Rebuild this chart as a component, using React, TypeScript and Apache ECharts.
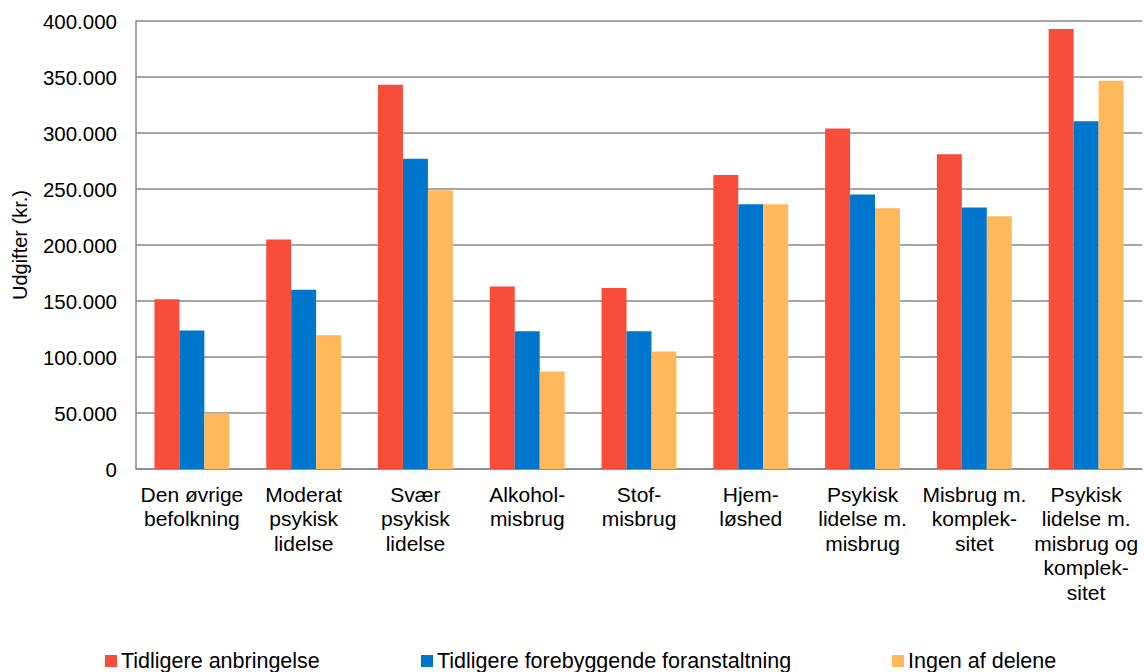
import React, { useEffect, useRef } from "react";
import * as echarts from "echarts";

const categories = [
  "Den øvrige\nbefolkning",
  "Moderat\npsykisk\nlidelse",
  "Svær\npsykisk\nlidelse",
  "Alkohol-\nmisbrug",
  "Stof-\nmisbrug",
  "Hjem-\nløshed",
  "Psykisk\nlidelse m.\nmisbrug",
  "Misbrug m.\nkomplek-\nsitet",
  "Psykisk\nlidelse m.\nmisbrug og\nkomplek-\nsitet",
];

const seriesNames = [
  "Tidligere anbringelse",
  "Tidligere forebyggende foranstaltning",
  "Ingen af delene",
];

const anbringelse = [151600, 205000, 343000, 163000, 161500, 262500, 304000, 281000, 392800];
const forebyggende = [123700, 160000, 277000, 123000, 123000, 236300, 245000, 233400, 310500];
const ingen = [49700, 119500, 248800, 87000, 105000, 236300, 232800, 225600, 346700];

const yTicks = [0, 50000, 100000, 150000, 200000, 250000, 300000, 350000, 400000];

const colors = ["#F94D3B", "#0076CC", "#FFB95A"];

const FONT = "'Liberation Sans', Arial, sans-serif";

function fmt(v: number): string {
  return String(Math.round(v)).replace(/\B(?=(\d{3})+(?!\d))/g, ".");
}

export default function App() {
  const ref = useRef<HTMLDivElement>(null);
  useEffect(() => {
    if (!ref.current) return;
    const chart = echarts.init(ref.current, undefined, { renderer: "svg" });
    const values = [anbringelse, forebyggende, ingen];
    const legendLefts = [105, 421, 892];
    chart.setOption({
      animation: false,
      textStyle: { fontFamily: FONT },
      grid: { left: 136, right: 2, top: 21, bottom: 203, containLabel: false },
      legend: seriesNames.map((n, i) => ({
        data: [n],
        left: legendLefts[i],
        top: 650,
        padding: 0,
        itemWidth: 12,
        itemHeight: 12,
        icon: "rect",
        textStyle: { fontFamily: FONT, fontSize: 21.5, color: "#000", padding: [0, 0, 0, -1] },
      })),
      xAxis: {
        type: "category",
        data: categories,
        axisLine: { show: true, lineStyle: { color: "#8a8a8a", width: 1.5 } },
        axisTick: { show: false },
        axisLabel: {
          interval: 0,
          margin: 13,
          fontFamily: FONT,
          fontSize: 21,
          lineHeight: 24.5,
          color: "#000",
          align: "center",
        },
      },
      yAxis: {
        type: "value",
        min: yTicks[0],
        max: yTicks[yTicks.length - 1],
        interval: yTicks[1] - yTicks[0],
        name: "Udgifter (kr.)",
        nameLocation: "middle",
        nameGap: 106,
        nameRotate: 90,
        nameTextStyle: { fontFamily: FONT, fontSize: 20, color: "#000" },
        axisLine: { show: true, lineStyle: { color: "#8a8a8a", width: 1.5 } },
        axisTick: { show: false },
        axisLabel: {
          margin: 19,
          fontFamily: FONT,
          fontSize: 20.5,
          color: "#000",
          formatter: (v: number) => fmt(v),
        },
        splitLine: { show: true, lineStyle: { color: "#8a8a8a", width: 1.5 } },
      },
      series: seriesNames.map((n, i) => ({
        name: n,
        type: "bar",
        data: values[i],
        barGap: "0%",
        barCategoryGap: "33%",
        itemStyle: { color: colors[i] },
      })),
    });
    return () => chart.dispose();
  }, []);
  return <div ref={ref} style={{ width: 1144, height: 672, position: "absolute", left: 0, top: 0 }} />;
}
